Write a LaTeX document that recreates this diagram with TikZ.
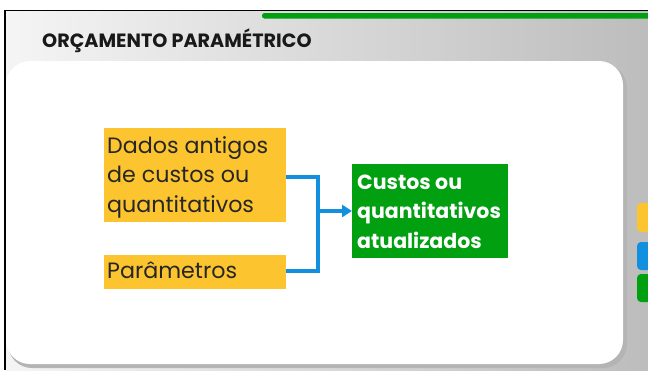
\documentclass[tikz,border=0pt]{standalone}
\usepackage{fontspec}
\setmainfont{Poppins}
\usetikzlibrary{arrows.meta,shadings}
\definecolor{yel}{HTML}{FCC42E}
\definecolor{grn}{HTML}{00A010}
\definecolor{blu}{HTML}{1190E0}
\definecolor{shd}{HTML}{B4B4B4}
\tikzset{
  ybox/.style={fill=yel,inner sep=0pt,anchor=north west},
  ytext/.style={anchor=base west,align=left,inner sep=0pt,font=\fontsize{22.2}{29.5}\selectfont,text=black!85},
  conn/.style={draw=blu,line width=3.6pt},
  tab/.style={rounded corners=4pt}
}
\begin{document}
\begin{tikzpicture}[x=1pt,y=-1pt]
\useasboundingbox (0,0) rectangle (648,370);
\fill[white] (0,0) rectangle (648,370);
% background gradient
\shade[left color=black!4,right color=black!26] (5,10) rectangle (648,370);
\draw[black,line width=1.6pt] (5,370) -- (5,10.5) -- (648,10.5);
% green bar
\fill[grn,rounded corners=2.5pt] (262,13) rectangle (652,18.5);
% title
\node[anchor=base west,inner sep=0pt,font=\bfseries\fontsize{19.2}{20}\selectfont,text=black!90] (title) at (42,47) {ORÇAMENTO PARAMÉTRICO};
% side tabs
\fill[yel,tab] (637,203) rectangle (660,232);
\fill[blu,tab] (637,242) rectangle (660,270);
\fill[grn,tab] (637,274) rectangle (660,302);
% white panel with shadow
\fill[shd,rounded corners=24pt] (8,64) rectangle (627,368);
\fill[white,rounded corners=24pt] (6,61) rectangle (623,364);
% boxes
\node[ybox,minimum width=182pt,minimum height=94pt] (a) at (104,128) {};
\node[ytext] (at) at (107,212) {Dados antigos\\de custos ou\\quantitativos};
\node[ybox,minimum width=182pt,minimum height=34pt] (b) at (104,255) {};
\node[ytext] (bt) at (107,278) {Parâmetros};
\node[fill=grn,anchor=north west,minimum width=156pt,minimum height=94pt,inner sep=0pt] (c) at (352,164) {};
\node[anchor=base west,align=left,inner sep=0pt,font=\bfseries\fontsize{20.5}{29.5}\selectfont,text=white] (ct) at (357,248) {Custos ou\\quantitativos\\atualizados};
% connectors
\coordinate (j1) at (318,177);
\coordinate (j2) at (318,271);
\coordinate (m) at (318,211);
\draw[conn] (a.east |- j1) -- (j1) -- (j2) -- (b.east |- j2);
\draw[conn,-{Triangle[length=10pt,width=12pt]}] (m) -- (c.west |- m);
\end{tikzpicture}
\end{document}
